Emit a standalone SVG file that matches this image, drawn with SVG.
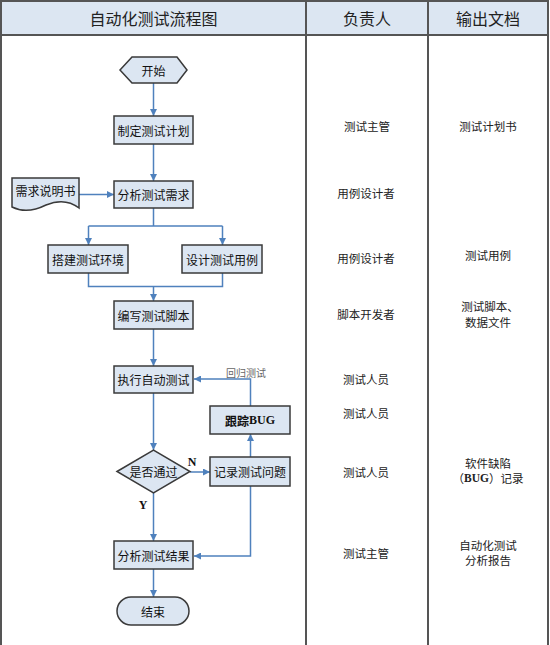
<svg xmlns="http://www.w3.org/2000/svg" width="550" height="645" viewBox="0 0 550 645">
<defs>
<marker id="arr" viewBox="0 0 10 10" refX="10" refY="5" markerWidth="7" markerHeight="7" markerUnits="userSpaceOnUse" orient="auto">
<path d="M0,0 L10,5 L0,10 Z" fill="#4f81bd"/>
</marker>
<style>
.tbl{fill:none;stroke:#555;stroke-width:2}
.hdr{fill:#dce6f2}
.ht{font-family:"Noto Sans CJK SC","Noto Sans",sans-serif;font-size:16px;fill:#222;text-anchor:middle;dominant-baseline:central}
.box{fill:#dce6f2;stroke:#3a3a3a;stroke-width:1.5}
.nt{font-family:"Noto Sans CJK SC","Noto Sans",sans-serif;font-size:12px;fill:#111;text-anchor:middle;dominant-baseline:central}
.ct{font-family:"Noto Sans CJK SC","Noto Sans",sans-serif;font-size:11.5px;fill:#222;text-anchor:middle;dominant-baseline:central}
.lat{font-family:"Liberation Serif",serif;font-weight:bold;font-size:12px;fill:#111;text-anchor:middle;dominant-baseline:central}
.small{font-family:"Noto Sans CJK SC","Noto Sans",sans-serif;font-size:10px;fill:#666;text-anchor:middle;dominant-baseline:central}
.con{fill:none;stroke:#4f81bd;stroke-width:1.5}
.conA{fill:none;stroke:#4f81bd;stroke-width:1.5;marker-end:url(#arr)}
</style>
</defs>
<rect width="550" height="645" fill="#fff"/>
<g id="table">
<rect class="hdr" x="1" y="1" width="547" height="34"/>
<path class="tbl" d="M1,646 V1 H548 V646 M306,1 V646 M428,1 V646 M1,35 H548"/>
<text class="ht" x="153.5" y="18">自动化测试流程图</text>
<text class="ht" x="367" y="18">负责人</text>
<text class="ht" x="488" y="18">输出文档</text>
</g>
<g id="connectors">
<path class="conA" d="M153.5,83 V116"/>
<path class="conA" d="M153.5,144 V181"/>
<path class="conA" d="M79,194.5 H114"/>
<path class="con" d="M153.5,208 V226 H88.5 M153.5,226 H222.5"/>
<path class="conA" d="M88.5,226 V245"/>
<path class="conA" d="M222.5,226 V245"/>
<path class="con" d="M88.5,273 V286.5 H222.5 V273"/>
<path class="conA" d="M153.5,286.5 V301"/>
<path class="conA" d="M153.5,329 V366"/>
<path class="conA" d="M153.5,393 V450"/>
<path class="conA" d="M190,472 H210"/>
<path class="conA" d="M250.5,457 V434"/>
<path class="conA" d="M250.5,406 V379 H194"/>
<path class="conA" d="M153.5,493 V541"/>
<path class="conA" d="M250.5,486 V556 H194"/>
<path class="conA" d="M153.5,569 V597"/>
<text class="small" x="246" y="372">回归测试</text>
<text class="lat" x="192" y="462">N</text>
<text class="lat" x="143" y="505">Y</text>
</g>
<g id="n-start">
<polygon class="box" points="120,70 132,57 177,57 187,70 177,83 132,83"/>
<text class="nt" x="153.5" y="70">开始</text>
</g>
<g id="n-plan">
<rect class="box" x="114" y="116" width="79" height="28"/>
<text class="nt" x="153.5" y="130">制定测试计划</text>
</g>
<g id="n-req">
<path class="box" d="M12,178 H79 V208 C70,201 58,200 46,205 C34,211 22,212 12,207 Z"/>
<text class="nt" x="45.5" y="190">需求说明书</text>
</g>
<g id="n-analyze">
<rect class="box" x="114" y="181" width="79" height="27"/>
<text class="nt" x="153.5" y="194.5">分析测试需求</text>
</g>
<g id="n-env">
<rect class="box" x="48" y="245" width="80" height="28"/>
<text class="nt" x="88" y="259">搭建测试环境</text>
</g>
<g id="n-case">
<rect class="box" x="182" y="245" width="80" height="28"/>
<text class="nt" x="222" y="259">设计测试用例</text>
</g>
<g id="n-script">
<rect class="box" x="114" y="301" width="79" height="28"/>
<text class="nt" x="153.5" y="315">编写测试脚本</text>
</g>
<g id="n-exec">
<rect class="box" x="114" y="366" width="79" height="27"/>
<text class="nt" x="153.5" y="379.5">执行自动测试</text>
</g>
<g id="n-bug">
<rect class="box" x="210" y="406" width="80" height="28"/>
<text class="nt" x="250" y="420" font-weight="bold">跟踪<tspan font-family="Liberation Serif, serif">BUG</tspan></text>
</g>
<g id="n-pass">
<polygon class="box" points="117,471.5 153.5,450 190,471.5 153.5,493"/>
<text class="nt" x="153.5" y="471.5">是否通过</text>
</g>
<g id="n-record">
<rect class="box" x="210" y="457" width="80" height="29"/>
<text class="nt" x="250" y="471.5">记录测试问题</text>
</g>
<g id="n-result">
<rect class="box" x="114" y="541" width="79" height="28"/>
<text class="nt" x="153.5" y="555">分析测试结果</text>
</g>
<g id="n-end">
<rect class="box" x="117" y="597" width="72" height="28" rx="14" ry="14"/>
<text class="nt" x="153" y="611">结束</text>
</g>
<g id="owners">
<text class="ct" x="367" y="126">测试主管</text>
<text class="ct" x="366" y="193">用例设计者</text>
<text class="ct" x="366" y="258">用例设计者</text>
<text class="ct" x="366" y="314">脚本开发者</text>
<text class="ct" x="366" y="379">测试人员</text>
<text class="ct" x="366" y="413">测试人员</text>
<text class="ct" x="366" y="472">测试人员</text>
<text class="ct" x="366" y="553">测试主管</text>
</g>
<g id="outputs">
<text class="ct" x="488" y="126">测试计划书</text>
<text class="ct" x="488" y="255">测试用例</text>
<text class="ct" x="490" y="306">测试脚本、</text>
<text class="ct" x="488" y="322">数据文件</text>
<text class="ct" x="488" y="463">软件缺陷</text>
<text class="ct" x="488" y="478">（<tspan font-family="Liberation Serif, serif" font-weight="bold">BUG</tspan>）记录</text>
<text class="ct" x="488" y="545">自动化测试</text>
<text class="ct" x="488" y="560">分析报告</text>
</g>
</svg>
